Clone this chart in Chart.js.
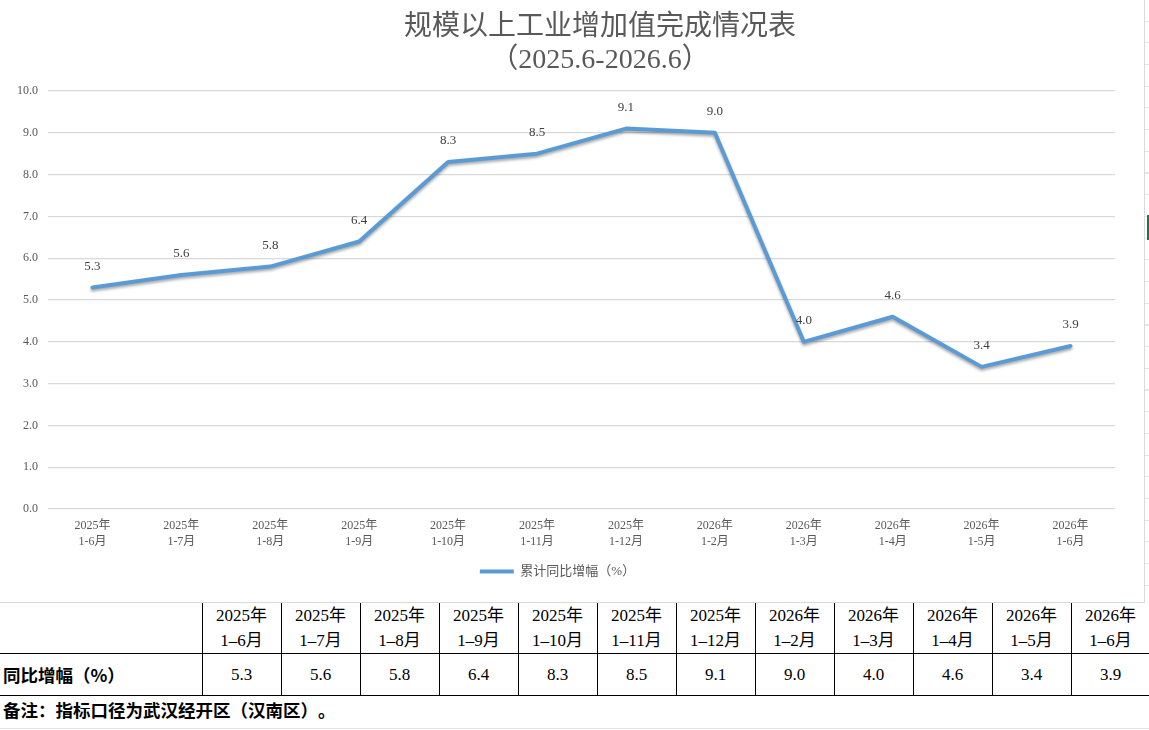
<!DOCTYPE html>
<html>
<head>
<meta charset="utf-8">
<script src="https://cdn.jsdelivr.net/npm/chart.js@4.4.1/dist/chart.umd.min.js"></script>
<style>
    html, body { margin: 0; padding: 0; background: #fff; }
    body { width: 1149px; height: 730px; position: relative; overflow: hidden; text-spacing-trim: space-all; }
    #cadre {
        position: absolute; left: 0; top: 0; width: 1145px; height: 603px;
        box-sizing: border-box; border-right: 1px solid #d9d9d9; border-bottom: 1px solid #d9d9d9;
    }
    #titre {
        position: absolute; left: 0; top: 9px; width: 1200px; text-align: center;
        color: #595959; font-family: "Liberation Serif", "Noto Sans CJK SC", serif;
        font-size: 28px; line-height: 33px;
    }
    #zoneGraph { position: absolute; left: 0; top: 0; width: 1144px; height: 602px; }
    #cote {
        position: absolute; left: 1145px; top: 0; width: 4px; height: 603px;
        background: repeating-linear-gradient(to bottom, #fff 0, #fff 20.5px, #e6e6e6 20.5px, #e6e6e6 21.7px);
    }
    #marque { position: absolute; left: 1147px; top: 215px; width: 2px; height: 25px; background: #217346; }
    table {
        position: absolute; left: 0; top: 603px; border-collapse: collapse; table-layout: fixed;
        width: 1150px;
    }
    td {
        border: 1px solid #000; text-align: center; padding: 0; color: #000;
        font-family: "Liberation Serif", "Noto Sans CJK SC", serif; font-size: 17px;
    }
    tr.entete td { height: 49px; border-top: none; line-height: 25px; }
    tr.valeurs td { height: 41px; }
    td.premier { border-left: none; text-align: left; padding-left: 3px;
        font-family: "Noto Sans CJK SC", sans-serif; font-weight: bold; font-size: 17.5px; }
    #note {
        position: absolute; left: 3px; top: 696px; height: 32px; line-height: 28px;
        font-family: "Noto Sans CJK SC", sans-serif; font-weight: bold; font-size: 17.5px; color: #000;
    }
    #basLigne { position: absolute; left: 0; top: 728px; width: 1149px; height: 1px; background: #e3e3e3; }
</style>
</head>
<body>
<div id="cadre"></div>
<div id="zoneGraph"><canvas id="graphiqueIndustrie"></canvas></div>
<div id="titre">规模以上工业增加值完成情况表<br>（2025.6-2026.6）</div>
<div id="cote"></div>
<div id="marque"></div>
<table id="tableau"></table>
<div id="note">备注：指标口径为武汉经开区（汉南区）。</div>
<div id="basLigne"></div>

<script>
// donnees
let annees = ["2025年", "2025年", "2025年", "2025年", "2025年", "2025年", "2025年",
              "2026年", "2026年", "2026年", "2026年", "2026年"];
let periodes = ["1-6月", "1-7月", "1-8月", "1-9月", "1-10月", "1-11月", "1-12月",
                "1-2月", "1-3月", "1-4月", "1-5月", "1-6月"];
let croissance = [5.3, 5.6, 5.8, 6.4, 8.3, 8.5, 9.1, 9.0, 4.0, 4.6, 3.4, 3.9];
let graduationsY = [0, 1, 2, 3, 4, 5, 6, 7, 8, 9, 10];
let nomSerie = "累计同比增幅（%）";
let nomLigne = "同比增幅（%）";

let bleu = "#5b9bd5";
let police = '"Liberation Serif", "Noto Sans CJK SC", serif';

// tableau sous le graphique
let tableau = document.getElementById("tableau");
let ligne1 = '<tr class="entete"><td class="premier"></td>';
let ligne2 = '<tr class="valeurs"><td class="premier">' + nomLigne + '</td>';
for (let i = 0; i < croissance.length; i++) {
    ligne1 += "<td>" + annees[i] + "<br>" + periodes[i].replace("-", "–") + "</td>";
    ligne2 += "<td>" + croissance[i].toFixed(1) + "</td>";
}
tableau.innerHTML = '<colgroup><col style="width:202px">' + '<col style="width:79px">'.repeat(12) + '</colgroup>'
    + ligne1 + "</tr>" + ligne2 + "</tr>";

// ombre sous la ligne
let ombre = {
    id: "ombre",
    beforeDatasetsDraw(chart) {
        let ctx = chart.ctx;
        ctx.save();
        ctx.shadowColor = "rgba(0,0,0,0.35)";
        ctx.shadowBlur = 3;
        ctx.shadowOffsetY = 2;
    },
    afterDatasetsDraw(chart) {
        chart.ctx.restore();
    }
};

// etiquettes au-dessus des points
let etiquettes = {
    id: "etiquettes",
    afterDraw(chart) {
        let ctx = chart.ctx;
        let meta = chart.getDatasetMeta(0);
        ctx.save();
        ctx.font = "13px " + police;
        ctx.fillStyle = "#404040";
        ctx.textAlign = "center";
        ctx.textBaseline = "middle";
        meta.data.forEach(function (pt, i) {
            ctx.fillText(croissance[i].toFixed(1), pt.x, pt.y - 21);
        });
        ctx.restore();
    }
};

let ctx = document.getElementById("graphiqueIndustrie").getContext("2d");
let chart = new Chart(ctx, {
    type: "line",
    data: {
        labels: annees.map(function (a, i) { return [a, periodes[i]]; }),
        datasets: [{
            label: nomSerie,
            data: croissance,
            borderColor: bleu,
            backgroundColor: bleu,
            borderWidth: 4,
            pointRadius: 0,
            pointHoverRadius: 0,
            tension: 0,
            borderCapStyle: "round",
            borderJoinStyle: "round"
        }]
    },
    options: {
        responsive: true,
        maintainAspectRatio: false,
        animation: false,
        layout: { padding: { top: 91, right: 29, bottom: 14, left: 0 } },
        plugins: {
            title: { display: false },
            tooltip: { enabled: false },
            legend: {
                position: "bottom",
                labels: {
                    boxWidth: 34,
                    boxHeight: 4,
                    color: "#595959",
                    font: { family: police, size: 13 },
                    generateLabels: function (c) {
                        return Chart.defaults.plugins.legend.labels.generateLabels(c).map(function (l) {
                            l.lineWidth = 0;
                            l.fillStyle = bleu;
                            return l;
                        });
                    }
                }
            }
        },
        scales: {
            x: {
                offset: true,
                grid: { display: false, drawTicks: false },
                border: { display: false },
                ticks: {
                    color: "#595959",
                    padding: 8,
                    maxRotation: 0,
                    autoSkip: false,
                    font: { family: police, size: 12, lineHeight: 1.4 }
                },
                afterFit: function (s) { s.height = 46; }
            },
            y: {
                min: 0,
                max: 10,
                afterBuildTicks: function (s) {
                    s.ticks = graduationsY.map(function (v) { return { value: v }; });
                },
                grid: { color: "#d9d9d9", lineWidth: 1.3, drawTicks: false },
                border: { display: false },
                ticks: {
                    color: "#595959",
                    padding: 10,
                    font: { family: police, size: 12 },
                    callback: function (v) { return Number(v).toFixed(1); }
                },
                afterFit: function (s) { s.width = 48; }
            }
        }
    },
    plugins: [ombre, etiquettes]
});
</script>
</body>
</html>
